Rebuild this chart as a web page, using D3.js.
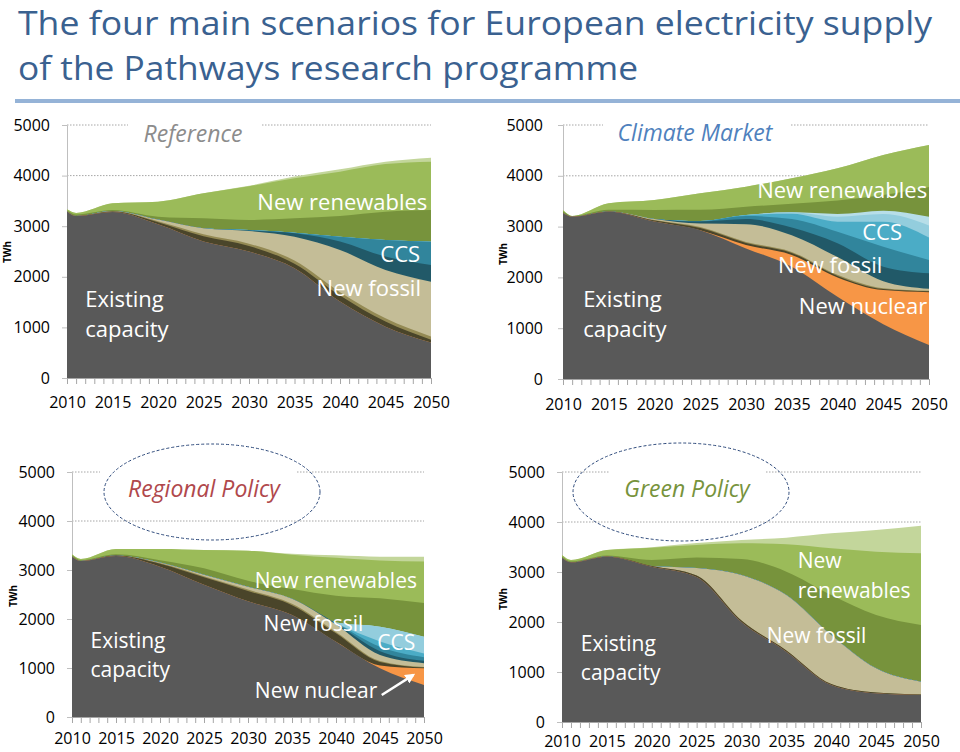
<!DOCTYPE html>
<html><head><meta charset="utf-8">
<script src="https://cdn.jsdelivr.net/npm/d3@7"></script>
<style>body{margin:0;background:#fff}svg{display:block}text{font-family:"Open Sans",sans-serif}</style>
</head><body>
<svg id="c" width="960" height="752"></svg>
<script>
// ---------- DATA ----------
const years = [2010, 2011, 2015, 2020, 2025, 2030, 2035, 2040, 2045, 2050];
const layerNames = ["Existing capacity", "New nuclear", "Fossil (retrofit)", "Fossil (other)", "New fossil",
  "CCS 1", "CCS 2", "CCS 3", "CCS 4", "CCS 5", "New renewables 1", "New renewables 2", "New renewables 3"];
const layerColors = ["#595959", "#f79646", "#4a452a", "#948a54", "#c4bd97",
  "#215968", "#31859c", "#4bacc6", "#93cddd", "#b7dee8", "#77933c", "#9bbb59", "#c3d69b"];
const yTickValues = [0, 1000, 2000, 3000, 4000, 5000];
const xTickLabels = [2010, 2015, 2020, 2025, 2030, 2035, 2040, 2045, 2050];

// TWh per layer (rows follow layerNames), columns follow years
const referenceTWh = [
  [3290, 3200, 3280, 3040, 2700, 2500, 2170, 1510, 1015, 700],
  [0, 0, 0, 0, 0, 0, 0, 0, 0, 0],
  [0, 0, 10, 40, 100, 110, 90, 120, 100, 55],
  [0, 0, 5, 20, 40, 45, 60, 65, 65, 65],
  [0, 0, 5, 30, 120, 250, 473, 835, 955, 1084],
  [0, 0, 0, 0, 0, 10, 67, 170, 265, 329],
  [0, 0, 0, 0, 0, 10, 12, 93, 327, 461],
  [0, 0, 0, 0, 0, 0, 0, 0, 0, 0],
  [0, 0, 0, 0, 0, 0, 0, 0, 0, 0],
  [0, 0, 0, 0, 0, 0, 0, 0, 0, 0],
  [20, 30, 20, 58, 195, 198, 283, 409, 560, 626],
  [24, 32, 132, 297, 495, 667, 791, 876, 941, 955],
  [0, 0, 0, 0, 0, 10, 34, 46, 47, 79]
];
const climateMarketTWh = [
  [3270, 3196, 3294, 3100, 2930, 2570, 2211, 1620, 1080, 669],
  [0, 0, 0, 0, 0, 68, 230, 380, 670, 1041],
  [0, 0, 5, 20, 40, 40, 40, 30, 20, 15],
  [0, 0, 0, 10, 20, 20, 20, 20, 15, 10],
  [0, 0, 0, 20, 70, 350, 330, 350, 140, 40],
  [0, 0, 0, 0, 40, 100, 150, 271, 286, 305],
  [0, 0, 0, 0, 10, 60, 170, 229, 394, 263],
  [0, 0, 0, 0, 0, 20, 100, 197, 492, 440],
  [0, 0, 0, 0, 0, 0, 30, 98, 151, 240],
  [0, 0, 0, 0, 0, 0, 0, 55, 66, 170],
  [30, 8, 31, 177, 220, 164, 167, 264, 306, 587],
  [27, 5, 128, 197, 325, 394, 502, 633, 789, 826],
  [0, 0, 0, 0, 0, 0, 0, 0, 0, 0]
];
const regionalPolicyTWh = [
  [3272, 3184, 3286, 3068, 2700, 2360, 2082, 1537, 993, 653],
  [0, 0, 0, 0, 0, 0, 0, 0, 60, 340],
  [0, 0, 10, 60, 150, 210, 200, 170, 70, 15],
  [0, 0, 0, 15, 25, 30, 30, 30, 20, 10],
  [0, 0, 0, 10, 30, 60, 100, 150, 120, 80],
  [0, 0, 0, 0, 0, 0, 0, 20, 80, 50],
  [0, 0, 0, 0, 0, 0, 0, 10, 90, 70],
  [0, 0, 0, 0, 0, 0, 0, 0, 110, 80],
  [0, 0, 0, 0, 0, 0, 0, 10, 300, 340],
  [0, 0, 0, 0, 0, 0, 0, 0, 0, 0],
  [28, 16, 24, 47, 130, 120, 200, 550, 580, 690],
  [20, 24, 109, 229, 373, 615, 701, 772, 769, 844],
  [0, 0, 0, 0, 0, 0, 20, 50, 80, 100]
];
const greenPolicyTWh = [
  [3287, 3193, 3307, 3107, 2900, 2000, 1407, 740, 573, 540],
  [0, 0, 0, 0, 0, 0, 0, 0, 0, 0],
  [0, 0, 5, 15, 30, 30, 25, 20, 15, 10],
  [0, 0, 0, 0, 0, 0, 0, 0, 0, 0],
  [0, 0, 0, 0, 150, 910, 1108, 980, 485, 257],
  [0, 0, 0, 0, 0, 0, 0, 0, 0, 0],
  [0, 0, 0, 0, 0, 0, 0, 0, 0, 0],
  [0, 0, 0, 0, 0, 0, 0, 0, 0, 0],
  [0, 0, 0, 0, 0, 0, 0, 0, 0, 0],
  [0, 0, 0, 0, 0, 0, 0, 0, 0, 0],
  [23, 17, 18, 118, 210, 320, 467, 800, 1067, 1133],
  [30, 30, 110, 247, 250, 313, 546, 933, 1267, 1433],
  [0, 0, 0, 10, 40, 67, 134, 300, 433, 554]
];

// in-chart annotations, placed in data units (year, TWh)
const referenceLabels = [
  {text: "Existing", year: 2012.0, twh: 1403, anchor: "start"},
  {text: "capacity", year: 2012.0, twh: 810, anchor: "start"},
  {text: "New renewables", year: 2049.6, twh: 3320, anchor: "end"},
  {text: "CCS", year: 2048.8, twh: 2292, anchor: "end"},
  {text: "New fossil", year: 2048.9, twh: 1621, anchor: "end"}
];
const climateMarketLabels = [
  {text: "Existing", year: 2012.2, twh: 1417, anchor: "start"},
  {text: "capacity", year: 2012.2, twh: 827, anchor: "start"},
  {text: "New renewables", year: 2049.8, twh: 3563, anchor: "end"},
  {text: "CCS", year: 2047.05, twh: 2736, anchor: "end"},
  {text: "New fossil", year: 2044.9, twh: 2087, anchor: "end"},
  {text: "New nuclear", year: 2049.8, twh: 1280, anchor: "end"}
];
const regionalPolicyLabels = [
  {text: "Existing", year: 2012.1, twh: 1408, anchor: "start"},
  {text: "capacity", year: 2012.1, twh: 816, anchor: "start"},
  {text: "New renewables", year: 2049.2, twh: 2633, anchor: "end"},
  {text: "New fossil", year: 2043.1, twh: 1755, anchor: "end"},
  {text: "CCS", year: 2049.0, twh: 1367, anchor: "end"},
  {text: "New nuclear", year: 2044.7, twh: 388, anchor: "end"}
];
const regionalPolicyArrow = [{year: 2045.2, twh: 449}, {year: 2048.8, twh: 860}];
const greenPolicyLabels = [
  {text: "Existing", year: 2012.1, twh: 1420, anchor: "start"},
  {text: "capacity", year: 2012.1, twh: 840, anchor: "start"},
  {text: "New", year: 2036.26, twh: 3080, anchor: "start"},
  {text: "renewables", year: 2036.26, twh: 2480, anchor: "start"},
  {text: "New fossil", year: 2032.8, twh: 1580, anchor: "start"}
];

// ---------- LAYOUT ----------
const panels = [
  {data: referenceTWh, labels: referenceLabels, title: "Reference", titleColor: "#8c8c8c",
   x0: 67, x1: 431, yTop: 125, yBot: 378, tx: 193, ty: 142, gap: [128, 262], twh: [7, 252],
   lfs: 22, xlab: 18.5, ylabPad: 12, ellipse: null},
  {data: climateMarketTWh, labels: climateMarketLabels, title: "Climate Market", titleColor: "#4f81bd",
   x0: 563, x1: 929, yTop: 125, yBot: 379, tx: 695, ty: 141, gap: [603, 790], twh: [503, 254],
   lfs: 22, xlab: 19.5, ylabPad: 15, ellipse: null},
  {data: regionalPolicyTWh, labels: regionalPolicyLabels, title: "Regional Policy", titleColor: "#b0484c",
   x0: 72, x1: 424, yTop: 472, yBot: 717, tx: 204, ty: 497, gap: [100, 297], twh: [13, 596],
   lfs: 21, xlab: 16, ylabPad: 12, ellipse: {cx: 212, cy: 492, rx: 108, ry: 48}, arrow: regionalPolicyArrow},
  {data: greenPolicyTWh, labels: greenPolicyLabels, title: "Green Policy", titleColor: "#77933c",
   x0: 562, x1: 921, yTop: 472, yBot: 722, tx: 687, ty: 497, gap: [610, 765], twh: [503, 599],
   lfs: 21, xlab: 13.5, ylabPad: 12, ellipse: {cx: 681, cy: 492, rx: 108, ry: 49}}
];

const svg = d3.select("#c");
const defs = svg.append("defs");
defs.append("marker").attr("id", "arrowW").attr("viewBox", "0 0 10 10").attr("refX", 8).attr("refY", 5)
  .attr("markerWidth", 4).attr("markerHeight", 4).attr("orient", "auto")
  .append("path").attr("d", "M0,0L10,5L0,10z").attr("fill", "#fff");

// Title
svg.append("text").attr("x", 18).attr("y", 35).attr("fill", "#3a6190").attr("font-size", 32)
  .attr("textLength", 914).attr("lengthAdjust", "spacingAndGlyphs")
  .text("The four main scenarios for European electricity supply");
svg.append("text").attr("x", 18).attr("y", 80).attr("fill", "#3a6190").attr("font-size", 32)
  .attr("textLength", 620).attr("lengthAdjust", "spacingAndGlyphs")
  .text("of the Pathways research programme");
svg.append("rect").attr("x", 15).attr("y", 99).attr("width", 945).attr("height", 4).attr("fill", "#95b3d7");

panels.forEach(p => {
  const g = svg.append("g");
  const x = d3.scaleLinear().domain([2010, 2050]).range([p.x0, p.x1]);
  const y = d3.scaleLinear().domain([0, 5000]).range([p.yBot, p.yTop]);

  // grid lines
  g.selectAll(".grid").data(yTickValues.slice(1)).join("line")
    .attr("x1", p.x0).attr("x2", p.x1).attr("y1", d => y(d)).attr("y2", d => y(d))
    .attr("stroke", "#a6a6a6").attr("stroke-width", 1).attr("stroke-dasharray", "1.5,1.5");

  // y axis
  const ya = g.append("g").attr("transform", `translate(${p.x0},0)`)
    .call(d3.axisLeft(y).tickValues(yTickValues).tickFormat(d3.format("d"))
      .tickSize(5).tickSizeOuter(0).tickPadding(p.ylabPad));
  ya.select(".domain").attr("stroke", "#bfbfbf");
  ya.selectAll(".tick line").attr("stroke", "#bfbfbf");
  ya.selectAll(".tick text").attr("font-size", 16).attr("fill", "#000").attr("font-family", "Open Sans");

  // stacked areas
  const rows = years.map((yr, i) => {
    const r = {year: yr};
    layerNames.forEach((n, j) => r[n] = p.data[j][i]);
    return r;
  });
  const series = d3.stack().keys(layerNames)(rows);
  const area = d3.area().x(d => x(d.data.year)).y0(y(0)).y1(d => y(d[1])).curve(d3.curveMonotoneX);
  for (let i = series.length - 1; i >= 0; i--) {
    g.append("path").datum(series[i]).attr("d", area).attr("fill", layerColors[i]);
  }

  // x axis
  const xa = g.append("g").attr("transform", `translate(0,${p.yBot})`)
    .call(d3.axisBottom(x).tickValues(d3.range(2010, 2051)).tickSize(6).tickSizeOuter(0)
      .tickPadding(p.xlab - 6).tickFormat(d => xTickLabels.includes(d) ? d : ""));
  xa.select(".domain").attr("stroke", "#a6a6a6");
  xa.selectAll(".tick line").attr("stroke", "#a6a6a6");
  xa.selectAll(".tick text").attr("font-size", 16).attr("fill", "#000").attr("font-family", "Open Sans");

  // TWh
  g.append("text").attr("transform", `translate(${p.twh[0]},${p.twh[1]}) rotate(-90)`)
    .attr("text-anchor", "middle").attr("dy", "0.35em").attr("font-size", 10).attr("font-weight", "bold")
    .text("TWh");

  // title with white background interrupting grid
  g.append("rect").attr("x", p.gap[0]).attr("width", p.gap[1] - p.gap[0])
    .attr("y", p.yTop - 6).attr("height", 12).attr("fill", "#fff");
  g.append("text").attr("x", p.tx).attr("y", p.ty).attr("text-anchor", "middle")
    .attr("font-size", 23).attr("font-style", "italic").attr("fill", p.titleColor).text(p.title);
  if (p.ellipse) {
    g.append("ellipse").attr("cx", p.ellipse.cx).attr("cy", p.ellipse.cy)
      .attr("rx", p.ellipse.rx).attr("ry", p.ellipse.ry).attr("fill", "none")
      .attr("stroke", "#2f4b7c").attr("stroke-width", 1).attr("stroke-dasharray", "3,2");
  }

  // labels
  g.selectAll(".lab").data(p.labels).join("text")
    .attr("x", d => x(d.year)).attr("y", d => y(d.twh)).attr("text-anchor", d => d.anchor)
    .attr("font-size", p.lfs).attr("fill", "#fff").text(d => d.text);

  if (p.arrow) {
    g.append("line").attr("x1", x(p.arrow[0].year)).attr("y1", y(p.arrow[0].twh))
      .attr("x2", x(p.arrow[1].year)).attr("y2", y(p.arrow[1].twh))
      .attr("stroke", "#fff").attr("stroke-width", 2.5).attr("marker-end", "url(#arrowW)");
  }
});
</script>
</body></html>
